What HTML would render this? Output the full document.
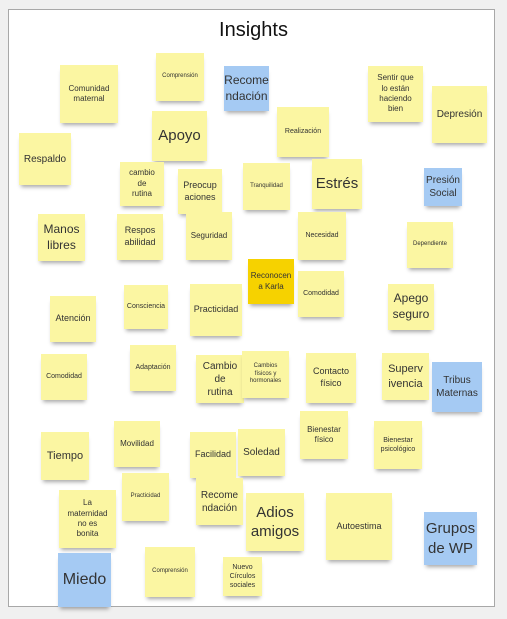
<!DOCTYPE html>
<html><head><meta charset="utf-8"><style>
html,body{margin:0;padding:0;width:507px;height:619px;background:#f0f0f0;overflow:hidden;font-family:"Liberation Sans",sans-serif}
#board{position:absolute;left:8px;top:9px;width:487px;height:598px;background:#fff;border:1px solid #a8a8a8;box-sizing:border-box}
#title{position:absolute;left:0;width:507px;top:19px;text-align:center;font-size:20px;color:#111}
.n{position:absolute;display:flex;align-items:center;justify-content:center;text-align:center;color:#333;line-height:1.3;box-shadow:0 4px 4px -2px rgba(0,0,0,0.35);box-sizing:border-box;padding:1px;white-space:pre-line}
.y{background:#fbf6a2}.b{background:#a5caf3}.o{background:#f6d200}
</style></head><body>
<div id="board"></div>
<div id="title">Insights</div>
<div id="notes"></div>
<script>
const notes=[
["Comunidad\nmaternal",60,65,58,58,8,"y"],
["Comprensión",156,53,48,48,6,"y"],
["Recome\nndación",224,66,45,45,12,"b"],
["Sentir que\nlo están\nhaciendo\nbien",368,66,55,56,8,"y"],
["Depresión",432,86,55,57,10,"y"],
["Respaldo",19,133,52,52,10,"y"],
["Apoyo",152,111,55,50,15,"y"],
["Realización",277,107,52,50,7,"y"],
["cambio\nde\nrutina",120,162,44,44,8,"y"],
["Preocup\naciones",178,169,44,45,9,"y"],
["Tranquilidad",243,163,47,47,6,"y"],
["Estrés",312,159,50,50,15,"y"],
["Presión\nSocial",424,168,38,38,10,"b"],
["Manos\nlibres",38,214,47,47,12,"y"],
["Respos\nabilidad",117,214,46,46,9,"y"],
["Seguridad",186,212,46,48,8,"y"],
["Necesidad",298,212,48,48,7,"y"],
["Dependiente",407,222,46,46,6,"y"],
["Reconocen\na Karla",248,259,46,45,8,"o"],
["Comodidad",298,271,46,46,7,"y"],
["Atención",50,296,46,46,9,"y"],
["Consciencia",124,285,44,44,7,"y"],
["Practicidad",190,284,52,52,9,"y"],
["Apego\nseguro",388,284,46,46,12,"y"],
["Comodidad",41,354,46,46,7,"y"],
["Adaptación",130,345,46,46,7,"y"],
["Cambio\nde\nrutina",196,355,48,48,10,"y"],
["Cambios\nfísicos y\nhormonales",242,351,47,47,6,"y"],
["Contacto\nfísico",306,353,50,50,9,"y"],
["Superv\nivencia",382,353,47,47,11,"y"],
["Tribus\nMaternas",432,362,50,50,10,"b"],
["Tiempo",41,432,48,48,11,"y"],
["Movilidad",114,421,46,46,8,"y"],
["Facilidad",190,432,46,46,9,"y"],
["Soledad",238,429,47,47,10,"y"],
["Bienestar\nfísico",300,411,48,48,8,"y"],
["Bienestar\npsicológico",374,421,48,48,7,"y"],
["La\nmaternidad\nno es\nbonita",59,490,57,58,8,"y"],
["Practicidad",122,473,47,48,6,"y"],
["Recome\nndación",196,478,47,47,10,"y"],
["Adios\namigos",246,493,58,58,15,"y"],
["Autoestima",326,493,66,67,9,"y"],
["Grupos\nde WP",424,512,53,53,15,"b"],
["Miedo",58,553,53,54,16,"b"],
["Comprensión",145,547,50,50,6,"y"],
["Nuevo\nCírculos\nsociales",223,557,39,39,7,"y"]
];
const host=document.getElementById('notes');
notes.forEach(function(n){
  const d=document.createElement('div');
  d.className='n '+n[6];
  d.style.left=n[1]+'px';d.style.top=n[2]+'px';
  d.style.width=n[3]+'px';d.style.height=n[4]+'px';
  d.style.fontSize=n[5]+'px';
  d.textContent=n[0];
  
  
  host.appendChild(d);
});
</script>
</body></html>
